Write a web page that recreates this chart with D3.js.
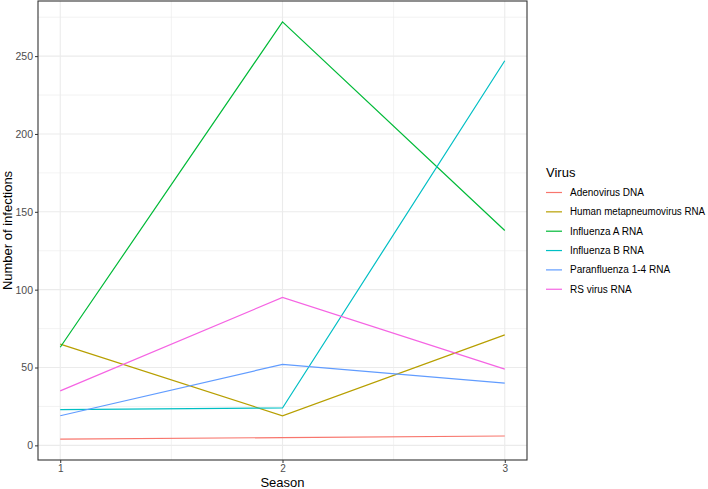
<!DOCTYPE html>
<html>
<head>
<meta charset="utf-8">
<script src="https://cdn.jsdelivr.net/npm/d3@7"></script>
<style>
  body { margin: 0; background: #fff; }
  text { font-family: "Liberation Sans", Arial, sans-serif; }
</style>
</head>
<body>
<svg id="chart" width="708" height="489"></svg>
<script>
const seasons = [1, 2, 3];
const viruses = ["Adenovirus DNA", "Human metapneumovirus RNA", "Influenza A RNA", "Influenza B RNA", "Paranfluenza 1-4 RNA", "RS virus RNA"];
const adenovirus = [4, 5, 6];
const metapneumovirus = [65, 19, 71];
const influenzaA = [63, 272, 138];
const influenzaB = [23, 24, 247];
const parainfluenza = [19, 52, 40];
const rsVirus = [35, 95, 49];
const yTicks = [0, 50, 100, 150, 200, 250];
const colors = ["#F8766D", "#B79F00", "#00BA38", "#00BFC4", "#619CFF", "#F564E3"];

const seriesValues = [adenovirus, metapneumovirus, influenzaA, influenzaB, parainfluenza, rsVirus];
const series = viruses.map((name, i) => ({ name, values: seasons.map((s, j) => ({ s, v: seriesValues[i][j] })) }));

const svg = d3.select("#chart");
const panel = { left: 38, right: 527, top: 1, bottom: 460 };

const allV = seriesValues.flat();
const vmin = d3.min(allV), vmax = d3.max(allV);
const pad = (vmax - vmin) * 0.05;
const y = d3.scaleLinear().domain([vmin - pad, vmax + pad]).range([panel.bottom, panel.top]);
const xpad = (3 - 1) * 0.05;
const x = d3.scaleLinear().domain([1 - xpad, 3 + xpad]).range([panel.left, panel.right]);

// grid
const g = svg.append("g");
const minorY = [25, 75, 125, 175, 225, 275];
g.selectAll(".ym").data(minorY).join("line")
  .attr("x1", panel.left).attr("x2", panel.right)
  .attr("y1", d => y(d)).attr("y2", d => y(d))
  .attr("stroke", "#EBEBEB").attr("stroke-width", 0.6);
g.selectAll(".xm").data([1.5, 2.5]).join("line")
  .attr("y1", panel.top).attr("y2", panel.bottom)
  .attr("x1", d => x(d)).attr("x2", d => x(d))
  .attr("stroke", "#EBEBEB").attr("stroke-width", 0.6);
g.selectAll(".yM").data(yTicks).join("line")
  .attr("x1", panel.left).attr("x2", panel.right)
  .attr("y1", d => y(d)).attr("y2", d => y(d))
  .attr("stroke", "#EBEBEB").attr("stroke-width", 1.1);
g.selectAll(".xM").data(seasons).join("line")
  .attr("y1", panel.top).attr("y2", panel.bottom)
  .attr("x1", d => x(d)).attr("x2", d => x(d))
  .attr("stroke", "#EBEBEB").attr("stroke-width", 1.1);

// lines
const line = d3.line().x(d => x(d.s)).y(d => y(d.v));
svg.append("g").selectAll("path").data(series).join("path")
  .attr("d", d => line(d.values))
  .attr("fill", "none")
  .attr("stroke", (d, i) => colors[i])
  .attr("stroke-width", 1.2);

// border
svg.append("rect")
  .attr("x", panel.left).attr("y", panel.top)
  .attr("width", panel.right - panel.left).attr("height", panel.bottom - panel.top)
  .attr("fill", "none").attr("stroke", "#333333").attr("stroke-width", 1.1);

// axes
const yAxis = d3.axisLeft(y).tickValues(yTicks).tickSize(3).tickPadding(2);
const ya = svg.append("g").attr("transform", `translate(${panel.left},0)`).call(yAxis);
ya.select(".domain").remove();
ya.selectAll(".tick line").attr("stroke", "#333333");
ya.selectAll(".tick text").attr("fill", "#4D4D4D").style("font-size", "10.5px");

const xAxis = d3.axisBottom(x).tickValues(seasons).tickFormat(d3.format("d")).tickSize(3).tickPadding(2);
const xa = svg.append("g").attr("transform", `translate(0,${panel.bottom})`).call(xAxis);
xa.select(".domain").remove();
xa.selectAll(".tick line").attr("stroke", "#333333");
xa.selectAll(".tick text").attr("fill", "#4D4D4D").style("font-size", "10px");

svg.append("text").attr("x", (panel.left + panel.right) / 2).attr("y", 487)
  .attr("text-anchor", "middle").style("font-size", "13px").attr("fill", "#000").text("Season");
svg.append("text").attr("transform", `translate(12,${(panel.top + panel.bottom) / 2}) rotate(-90)`)
  .attr("text-anchor", "middle").style("font-size", "13px").attr("fill", "#000").text("Number of infections");

// legend
const leg = svg.append("g");
leg.append("text").attr("x", 546).attr("y", 177).style("font-size", "13px").attr("fill", "#000").text("Virus");
const items = leg.selectAll(".item").data(viruses).join("g")
  .attr("transform", (d, i) => `translate(0,${192.5 + i * 19.35})`);
items.append("line").attr("x1", 546).attr("x2", 562).attr("y1", 0).attr("y2", 0)
  .attr("stroke", (d, i) => colors[i]).attr("stroke-width", 1.2);
items.append("text").attr("x", 570).attr("y", 0).attr("dy", "0.35em")
  .style("font-size", "10px").attr("fill", "#000").text(d => d)
  .each(function () {
    const w = this.getComputedTextLength();
    if (w > 135) d3.select(this).attr("textLength", 135).attr("lengthAdjust", "spacingAndGlyphs");
  });
</script>
</body>
</html>
